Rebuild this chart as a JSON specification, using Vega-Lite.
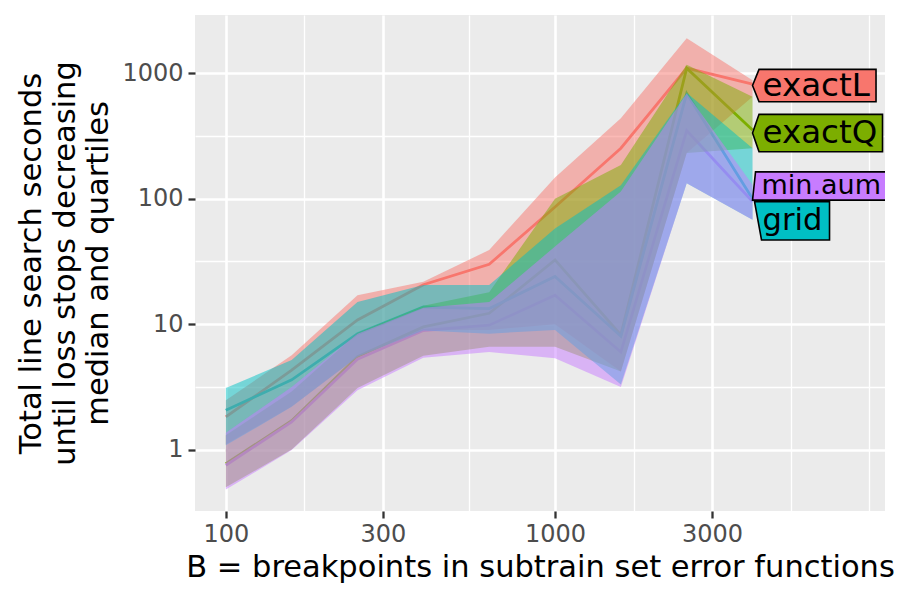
{
  "$schema": "https://vega.github.io/schema/vega-lite/v6.json",
  "width": 690,
  "height": 496,
  "autosize": {"type": "none"},
  "padding": {"left": 195, "top": 15, "right": 15, "bottom": 89},
  "background": "white",
  "view": {"fill": "#EBEBEB", "stroke": null},
  "config": {
    "font": "DejaVu Sans",
    "axis": {
      "domain": false,
      "labelFont": "DejaVu Sans",
      "labelFontSize": 24,
      "labelColor": "#4D4D4D",
      "tickColor": "#333333",
      "tickWidth": 2.3,
      "tickSize": 7,
      "titleFont": "DejaVu Sans",
      "titleFontSize": 30.5,
      "titleFontWeight": "normal",
      "titleColor": "black",
      "gridColor": "white"
    }
  },
  "datasets": {
    "ribbons": [
      {"series": "exactL", "B": 100, "median": 1.82, "q25": 1.1, "q75": 2.47},
      {"series": "exactL", "B": 158.5, "median": 4.3, "q25": 2.2, "q75": 5.65},
      {"series": "exactL", "B": 251.2, "median": 10.8, "q25": 5.5, "q75": 17},
      {"series": "exactL", "B": 398.1, "median": 20.6, "q25": 9, "q75": 21.8},
      {"series": "exactL", "B": 631, "median": 30, "q25": 9, "q75": 39},
      {"series": "exactL", "B": 1000, "median": 86, "q25": 10, "q75": 148},
      {"series": "exactL", "B": 1585, "median": 253, "q25": 4.2, "q75": 438},
      {"series": "exactL", "B": 2512, "median": 1100, "q25": 232, "q75": 1900},
      {"series": "exactL", "B": 3981, "median": 820, "q25": 650, "q75": 880},
      {"series": "exactQ", "B": 100, "median": 0.77, "q25": 0.5, "q75": 1.3},
      {"series": "exactQ", "B": 158.5, "median": 1.7, "q25": 1.0, "q75": 2.9},
      {"series": "exactQ", "B": 251.2, "median": 5.5, "q25": 3.1, "q75": 8.5},
      {"series": "exactQ", "B": 398.1, "median": 9.5, "q25": 5.6, "q75": 14},
      {"series": "exactQ", "B": 631, "median": 12.2, "q25": 6.6, "q75": 18},
      {"series": "exactQ", "B": 1000, "median": 32.5, "q25": 6.6, "q75": 100},
      {"series": "exactQ", "B": 1585, "median": 8.2, "q25": 4.2, "q75": 186},
      {"series": "exactQ", "B": 2512, "median": 1100, "q25": 232, "q75": 1170},
      {"series": "exactQ", "B": 3981, "median": 353, "q25": 253, "q75": 650},
      {"series": "grid", "B": 100, "median": 2.06, "q25": 1.08, "q75": 3.1},
      {"series": "grid", "B": 158.5, "median": 3.6, "q25": 2.19, "q75": 5.17},
      {"series": "grid", "B": 251.2, "median": 8.4, "q25": 5.5, "q75": 15},
      {"series": "grid", "B": 398.1, "median": 13.7, "q25": 8.9, "q75": 20.5},
      {"series": "grid", "B": 631, "median": 13.3, "q25": 8.4, "q75": 20.5},
      {"series": "grid", "B": 1000, "median": 24, "q25": 9, "q75": 58},
      {"series": "grid", "B": 1585, "median": 8.0, "q25": 3.3, "q75": 128},
      {"series": "grid", "B": 2512, "median": 690, "q25": 133, "q75": 700},
      {"series": "grid", "B": 3981, "median": 100, "q25": 68, "q75": 253},
      {"series": "min.aum", "B": 100, "median": 0.75, "q25": 0.48, "q75": 1.36},
      {"series": "min.aum", "B": 158.5, "median": 1.66, "q25": 0.99, "q75": 3.16},
      {"series": "min.aum", "B": 251.2, "median": 5.25, "q25": 2.97, "q75": 8.4},
      {"series": "min.aum", "B": 398.1, "median": 8.9, "q25": 5.4, "q75": 13.5},
      {"series": "min.aum", "B": 631, "median": 9.8, "q25": 6.0, "q75": 15},
      {"series": "min.aum", "B": 1000, "median": 17, "q25": 5.35, "q75": 41.6},
      {"series": "min.aum", "B": 1585, "median": 6.0, "q25": 3.16, "q75": 114},
      {"series": "min.aum", "B": 2512, "median": 350, "q25": 133, "q75": 690},
      {"series": "min.aum", "B": 3981, "median": 95, "q25": 68, "q75": 129}
    ],
    "labels": [
      {"series": "exactL", "B": 3981, "ylab": 799},
      {"series": "exactQ", "B": 3981, "ylab": 334},
      {"series": "min.aum", "B": 3981, "ylab": 126},
      {"series": "grid", "B": 3981, "ylab": 66.5}
    ]
  },
  "layer": [
    {
      "data": {"name": "ribbons"},
      "mark": {"type": "line", "strokeWidth": 2.8},
      "encoding": {
        "x": {
          "field": "B", "type": "quantitative",
          "scale": {"type": "log", "domain": [80.6, 10056], "nice": false},
          "axis": {
            "title": "B = breakpoints in subtrain set error functions",
            "values": [100, 300, 1000, 3000, 173.2, 547.7, 1732, 5196, 9000],
            "labelExpr": "(datum.value == 100 || datum.value == 300 || datum.value == 1000 || datum.value == 3000) ? toString(datum.value) : ''",
            "gridWidth": {"condition": {"test": "datum.value == 100 || datum.value == 300 || datum.value == 1000 || datum.value == 3000", "value": 2.6}, "value": 1.3},
            "tickOpacity": {"condition": {"test": "datum.value == 100 || datum.value == 300 || datum.value == 1000 || datum.value == 3000", "value": 1}, "value": 0},
            "labelPadding": 4,
            "titlePadding": 6,
            "labelFlush": false,
            "labelOverlap": false
          }
        },
        "y": {
          "field": "median", "type": "quantitative",
          "scale": {"type": "log", "domain": [0.3236, 2918], "nice": false},
          "axis": {
            "title": ["Total line search seconds", "until loss stops decreasing", "median and quartiles"],
            "titleLineHeight": 33.5,
            "values": [1, 10, 100, 1000, 3.1623, 31.623, 316.23],
            "labelExpr": "(datum.value == 1 || datum.value == 10 || datum.value == 100 || datum.value == 1000) ? toString(datum.value) : ''",
            "gridWidth": {"condition": {"test": "datum.value == 1 || datum.value == 10 || datum.value == 100 || datum.value == 1000", "value": 2.6}, "value": 1.3},
            "tickOpacity": {"condition": {"test": "datum.value == 1 || datum.value == 10 || datum.value == 100 || datum.value == 1000", "value": 1}, "value": 0},
            "labelPadding": 5,
            "titlePadding": 8,
            "labelFlush": false,
            "labelOverlap": false
          }
        },
        "color": {
          "field": "series", "type": "nominal",
          "scale": {"domain": ["exactL", "exactQ", "grid", "min.aum"], "range": ["#F8766D", "#7CAE00", "#00BFC4", "#C77CFF"]},
          "legend": null
        }
      }
    },
    {
      "data": {"name": "ribbons"},
      "mark": {"type": "area", "opacity": 0.5},
      "encoding": {
        "x": {"field": "B", "type": "quantitative"},
        "y": {"field": "q25", "type": "quantitative"},
        "y2": {"field": "q75"},
        "color": {"field": "series", "type": "nominal", "legend": null}
      }
    },
    {
      "data": {"name": "labels"},
      "mark": {"type": "point", "filled": true, "size": 4, "opacity": 1, "stroke": "black", "strokeWidth": 1.6, "clip": true},
      "encoding": {
        "x": {"field": "B", "type": "quantitative"},
        "y": {"field": "ylab", "type": "quantitative"},
        "color": {"field": "series", "type": "nominal", "legend": null},
        "shape": {
          "field": "series", "type": "nominal",
          "scale": {
            "domain": ["exactL", "exactQ", "grid", "min.aum"],
            "range": [
              "M0,0L6.5,-16.2L123.5,-16.2L123.5,16.2L6.5,16.2Z",
              "M0,0L6.5,-18.7L130,-18.7L130,18.7L6.5,18.7Z",
              "M2,-19.3L77,-19.3L77,19L9,19Z",
              "M3,-14.3L145,-14.3L145,14L0,14Z"
            ]
          },
          "legend": null
        }
      }
    },
    {
      "data": {"name": "labels"},
      "transform": [{"filter": "datum.series == 'exactL' || datum.series == 'exactQ'"}],
      "mark": {"type": "text", "align": "left", "baseline": "middle", "dx": 10, "fontSize": 32.5, "color": "black", "font": "DejaVu Sans", "clip": true},
      "encoding": {
        "x": {"field": "B", "type": "quantitative"},
        "y": {"field": "ylab", "type": "quantitative"},
        "text": {"field": "series", "type": "nominal"}
      }
    },
    {
      "data": {"name": "labels"},
      "transform": [{"filter": "datum.series == 'grid'"}],
      "mark": {"type": "text", "align": "left", "baseline": "middle", "dx": 10, "fontSize": 30.5, "color": "black", "font": "DejaVu Sans", "clip": true},
      "encoding": {
        "x": {"field": "B", "type": "quantitative"},
        "y": {"field": "ylab", "type": "quantitative"},
        "text": {"field": "series", "type": "nominal"}
      }
    },
    {
      "data": {"name": "labels"},
      "transform": [{"filter": "datum.series == 'min.aum'"}],
      "mark": {"type": "text", "align": "left", "baseline": "middle", "dx": 9, "fontSize": 27, "color": "black", "font": "DejaVu Sans", "clip": true},
      "encoding": {
        "x": {"field": "B", "type": "quantitative"},
        "y": {"field": "ylab", "type": "quantitative"},
        "text": {"field": "series", "type": "nominal"}
      }
    }
  ]
}
